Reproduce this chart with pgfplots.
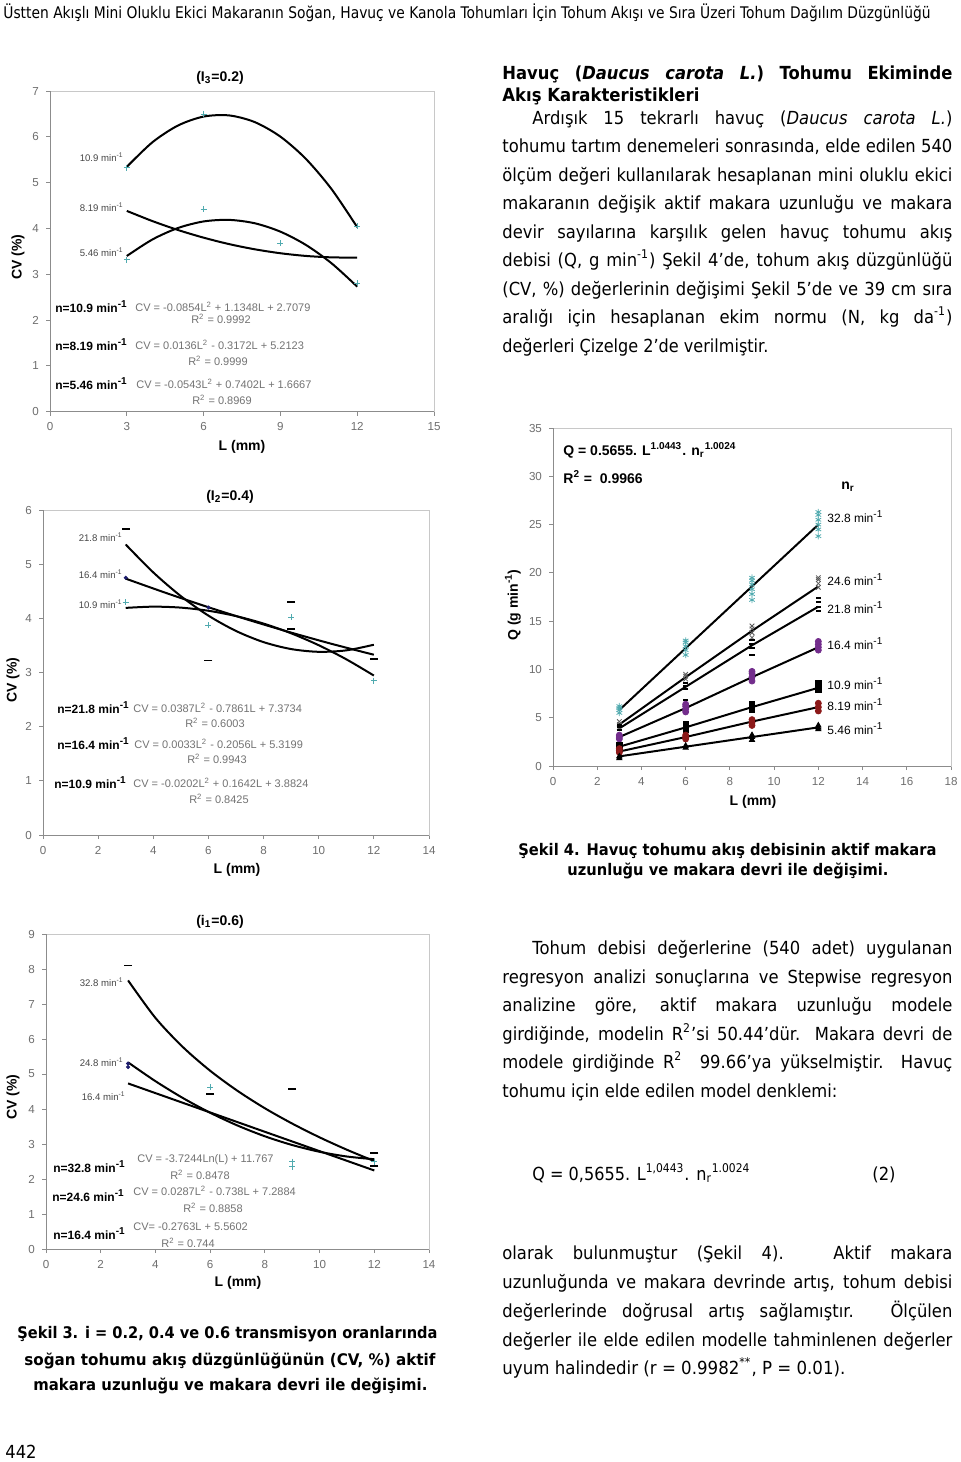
\documentclass[border=0pt]{standalone}
\usepackage{fontspec}
\usepackage{graphicx}
\usepackage{pgfplots}
\pgfplotsset{compat=1.18}
\setmainfont{Liberation Sans}
\newfontfamily\chartfont{Liberation Sans}
\newfontfamily\bodyfont[FakeStretch=0.91]{DejaVu Sans}

\definecolor{tickgray}{RGB}{110,110,110}
\definecolor{axgray}{RGB}{140,140,140}
\definecolor{boxgray}{RGB}{200,200,200}
\definecolor{eqgray}{RGB}{115,115,115}
\definecolor{lblgray}{RGB}{70,70,70}
\definecolor{mcyan}{RGB}{80,170,175}
\definecolor{mnavy}{RGB}{30,30,110}
\definecolor{mpurple}{RGB}{115,45,140}
\definecolor{mred}{RGB}{140,25,25}

\pgfplotsset{
 cvax/.style={scale only axis, anchor=south west, axis line style={boxgray},
  tick align=outside, xtick pos=left, ytick pos=left, major tick length=2pt,
  tick style={axgray, line width=0.4pt},
  tick label style={font=\chartfont\fontsize{5.8}{6}\selectfont, text=tickgray},
  /pgf/number format/assume math mode=true, enlargelimits=false,
  xlabel={}, ylabel={}},
 trend/.style={black, line width=1pt, smooth, no marks},
}

\newcommand{\jline}[4]{\node[anchor=base west, inner sep=0pt] at (#1,#2) {\bodyfont\fontsize{9}{11}\selectfont\makebox[#3][s]{#4}};}
\newcommand{\bjline}[4]{\node[anchor=base west, inner sep=0pt] at (#1,#2) {\bodyfont\bfseries\fontsize{9}{11}\selectfont\makebox[#3][s]{#4}};}
\newcommand{\rline}[5]{\node[anchor=base west, inner sep=0pt] at (#1,#2) {#4\resizebox{#3}{\height}{#5}};}
\newcommand{\BF}{\bodyfont\fontsize{9}{11}\selectfont}
\newcommand{\BBF}{\bodyfont\bfseries\fontsize{8}{10}\selectfont}
\newcommand{\nlab}{\chartfont\bfseries\fontsize{6}{7}\selectfont}
\newcommand{\eqf}{\chartfont\fontsize{5.5}{6}\selectfont\color{eqgray}}
\newcommand{\clab}{\chartfont\fontsize{4.8}{5}\selectfont\color{lblgray}}
\newcommand{\albf}{\chartfont\bfseries\fontsize{7}{8}\selectfont}
\newcommand{\mi}{min\textsuperscript{-1}}

\begin{document}
\begin{tikzpicture}[x=0.5pt,y=-0.5pt]
\path[use as bounding box] (0,0) rectangle (960,1462);
\fill[white] (0,0) rectangle (960,1462);

% ---------------- Chart 1 ----------------
\begin{axis}[cvax, at={(25pt,-205.85pt)}, width=192pt, height=160.35pt,
  xmin=0, xmax=15, ymin=0, ymax=7, xtick={0,3,6,9,12,15}, ytick={0,1,2,3,4,5,6,7}]
\addplot[trend] coordinates {(3,5.344) (4,5.881) (5,6.247) (6,6.442) (7,6.467) (8,6.321) (9,6.004) (10,5.516) (11,4.857) (12,4.028)};
\addplot[trend] coordinates {(3,4.383) (4,4.161) (5,3.966) (6,3.799) (7,3.658) (8,3.545) (9,3.459) (10,3.400) (11,3.369) (12,3.364)};
\addplot[trend] coordinates {(3,3.399) (4,3.759) (5,4.010) (6,4.153) (7,4.187) (8,4.113) (9,3.930) (10,3.639) (11,3.239) (12,2.730)};
\addplot[only marks, mark=+, mcyan, mark size=1.5pt] coordinates {(3,5.33) (6,6.5) (12,4.05) (6,4.42) (9,3.68) (3,3.32) (12,2.8)};
\draw[axgray, line width=0.5pt] (rel axis cs:0,1) -- (rel axis cs:0,0) -- (rel axis cs:1,0);
\end{axis}
\node[font=\albf] at (220,78) {(I\textsubscript{3}=0.2)};
\node[font=\albf, rotate=90] at (18,257) {CV (\%)};
\node[font=\albf] at (242,447) {L (mm)};
\node[anchor=west, inner sep=0pt] at (55,307) {\nlab n=10.9 \mi};
\node[anchor=west, inner sep=0pt] at (135,307) {\eqf CV = -0.0854L\textsuperscript{2} + 1.1348L + 2.7079};
\node[inner sep=0pt] at (221,319) {\eqf R\textsuperscript{2} = 0.9992};
\node[anchor=west, inner sep=0pt] at (55,345) {\nlab n=8.19 \mi};
\node[anchor=west, inner sep=0pt] at (135,345) {\eqf CV = 0.0136L\textsuperscript{2} - 0.3172L + 5.2123};
\node[inner sep=0pt] at (218,361) {\eqf R\textsuperscript{2} = 0.9999};
\node[anchor=west, inner sep=0pt] at (55,384) {\nlab n=5.46 \mi};
\node[anchor=west, inner sep=0pt] at (136,384) {\eqf CV = -0.0543L\textsuperscript{2} + 0.7402L + 1.6667};
\node[inner sep=0pt] at (222,400) {\eqf R\textsuperscript{2} = 0.8969};
\node[anchor=east, inner sep=0pt] at (124,157) {\clab 10.9 \mi};
\node[anchor=east, inner sep=0pt] at (124,207) {\clab 8.19 \mi};
\node[anchor=east, inner sep=0pt] at (124,252) {\clab 5.46 \mi};

% ---------------- Chart 2 ----------------
\begin{axis}[cvax, at={(21.5pt,-417.5pt)}, width=193pt, height=162.5pt,
  xmin=0, xmax=14, ymin=0, ymax=6, xtick={0,2,...,14}, ytick={0,1,2,3,4,5,6}]
\addplot[trend] coordinates {(3,5.363) (4,4.848) (5,4.410) (6,4.050) (7,3.767) (8,3.561) (9,3.433) (10,3.382) (11,3.409) (12,3.513)};
\addplot[trend] coordinates {(3,4.733) (4.5,4.462) (6,4.205) (7.5,3.964) (9,3.737) (10.5,3.525) (12,3.328)};
\addplot[trend] coordinates {(3,4.193) (4,4.216) (5,4.198) (6,4.140) (7,4.042) (8,3.903) (9,3.724) (10,3.504) (11,3.244) (12,2.944)};
\addplot[only marks, mark=-, black, mark size=2pt, line width=0.9pt] coordinates {(3,5.65) (6,3.22) (9,4.3) (12,3.25) (9,3.8)};
\addplot[only marks, mark=+, mcyan, mark size=1.5pt] coordinates {(3,4.3) (6,3.87) (9,4.02) (12,2.85)};
\addplot[only marks, mark=*, mnavy, mark size=0.8pt] coordinates {(3,4.75) (6,4.2)};
\draw[axgray, line width=0.5pt] (rel axis cs:0,1) -- (rel axis cs:0,0) -- (rel axis cs:1,0);
\end{axis}
\node[font=\albf] at (230,497) {(I\textsubscript{2}=0.4)};
\node[font=\albf, rotate=90] at (13,680) {CV (\%)};
\node[font=\albf] at (237,870) {L (mm)};
\node[anchor=west, inner sep=0pt] at (57,708) {\nlab n=21.8 \mi};
\node[anchor=west, inner sep=0pt] at (133,708) {\eqf CV = 0.0387L\textsuperscript{2} - 0.7861L + 7.3734};
\node[inner sep=0pt] at (215,723) {\eqf R\textsuperscript{2} = 0.6003};
\node[anchor=west, inner sep=0pt] at (57,744) {\nlab n=16.4 \mi};
\node[anchor=west, inner sep=0pt] at (134,744) {\eqf CV = 0.0033L\textsuperscript{2} - 0.2056L + 5.3199};
\node[inner sep=0pt] at (217,759) {\eqf R\textsuperscript{2} = 0.9943};
\node[anchor=west, inner sep=0pt] at (54,783) {\nlab n=10.9 \mi};
\node[anchor=west, inner sep=0pt] at (133,783) {\eqf CV = -0.0202L\textsuperscript{2} + 0.1642L + 3.8824};
\node[inner sep=0pt] at (219,799) {\eqf R\textsuperscript{2} = 0.8425};
\node[anchor=east, inner sep=0pt] at (123,537) {\clab 21.8 \mi};
\node[anchor=east, inner sep=0pt] at (123,574) {\clab 16.4 \mi};
\node[anchor=east, inner sep=0pt] at (123,604) {\clab 10.9 \mi};

% ---------------- Chart 3 ----------------
\begin{axis}[cvax, at={(23pt,-624.5pt)}, width=191.5pt, height=157.5pt,
  xmin=0, xmax=14, ymin=0, ymax=9, xtick={0,2,...,14}, ytick={0,1,...,9}]
\addplot[trend] coordinates {(3,7.675) (4,6.604) (5,5.773) (6,5.094) (7,4.520) (8,4.022) (9,3.584) (10,3.191) (11,2.836) (12,2.512)};
\addplot[trend] coordinates {(3,5.333) (4,4.796) (5,4.316) (6,3.894) (7,3.529) (8,3.221) (9,2.971) (10,2.778) (11,2.643) (12,2.565)};
\addplot[black, line width=1pt, no marks] coordinates {(3,4.731) (12,2.244)};
\addplot[only marks, mark=-, black, mark size=2pt, line width=0.9pt] coordinates {(3,8.1) (9,4.58) (12,2.75) (6,4.42) (12,2.38)};
\addplot[only marks, mark=+, mcyan, mark size=1.5pt] coordinates {(6,4.62) (9,2.35) (12,2.5) (9,2.5)};
\addplot[only marks, mark=*, mnavy, mark size=0.8pt] coordinates {(3,5.2) (3,5.3)};
\draw[axgray, line width=0.5pt] (rel axis cs:0,1) -- (rel axis cs:0,0) -- (rel axis cs:1,0);
\end{axis}
\node[font=\albf] at (220,922) {(i\textsubscript{1}=0.6)};
\node[font=\albf, rotate=90] at (13,1097) {CV (\%)};
\node[font=\albf] at (238,1283) {L (mm)};
\node[anchor=west, inner sep=0pt] at (53,1167) {\nlab n=32.8 \mi};
\node[anchor=west, inner sep=0pt] at (137,1160) {\eqf CV = -3.7244Ln(L) + 11.767};
\node[inner sep=0pt] at (200,1175) {\eqf R\textsuperscript{2} = 0.8478};
\node[anchor=west, inner sep=0pt] at (52,1196) {\nlab n=24.6 \mi};
\node[anchor=west, inner sep=0pt] at (133,1191) {\eqf CV = 0.0287L\textsuperscript{2} - 0.738L + 7.2884};
\node[inner sep=0pt] at (213,1208) {\eqf R\textsuperscript{2} = 0.8858};
\node[anchor=west, inner sep=0pt] at (53,1234) {\nlab n=16.4 \mi};
\node[anchor=west, inner sep=0pt] at (133,1227) {\eqf CV= -0.2763L + 5.5602};
\node[inner sep=0pt] at (188,1243) {\eqf R\textsuperscript{2} = 0.744};
\node[anchor=east, inner sep=0pt] at (124,982) {\clab 32.8 \mi};
\node[anchor=east, inner sep=0pt] at (124,1062) {\clab 24.8 \mi};
\node[anchor=east, inner sep=0pt] at (126,1096) {\clab 16.4 \mi};

% ---------------- Chart 4 ----------------
\begin{axis}[cvax, at={(276.5pt,-383pt)}, width=199pt, height=169pt,
  xmin=0, xmax=18, ymin=0, ymax=35, xtick={0,2,...,18}, ytick={0,5,...,35}]
\addplot[only marks, mark=asterisk, mcyan, mark size=1.6pt] coordinates {
 (3,5.5) (3,5.8) (3,6.0) (3,6.2)
 (6,11.5) (6,12.0) (6,12.4) (6,12.8) (6,13.0)
 (9,17.2) (9,17.8) (9,18.3) (9,18.8) (9,19.2) (9,19.5)
 (12,23.8) (12,24.5) (12,25.0) (12,25.5) (12,26.0) (12,26.3)};
\addplot[only marks, mark=x, gray!70!black, mark size=1.6pt] coordinates {
 (3,4.0) (3,4.3) (3,4.6) (6,9.0) (6,9.3) (6,9.5)
 (9,13.3) (9,13.8) (9,14.2) (9,14.5) (12,18.5) (12,18.9) (12,19.3) (12,19.5)};
\addplot[only marks, mark=-, black, mark size=1.3pt, line width=1pt] coordinates {
 (3,3.7) (3,4.0) (3,4.2) (6,6.8) (6,8.0) (6,8.3) (6,8.6)
 (9,11.5) (9,12.2) (9,12.6) (9,13.0) (12,16.0) (12,16.5) (12,17.0) (12,17.4)};
\addplot[only marks, mark=*, mpurple, mark size=1.5pt] coordinates {
 (3,2.8) (3,3.0) (3,3.2) (6,5.6) (6,5.9) (6,6.2) (6,6.4)
 (9,8.8) (9,9.2) (9,9.6) (9,9.8) (12,12.0) (12,12.3) (12,12.6) (12,12.9)};
\addplot[only marks, mark=square*, black, mark size=1.3pt] coordinates {
 (3,1.8) (3,2.0) (3,2.2) (6,3.8) (6,4.0) (6,4.3) (9,5.8) (9,6.1) (9,6.4) (12,7.9) (12,8.3) (12,8.6)};
\addplot[only marks, mark=*, mred, mark size=1.5pt] coordinates {
 (3,1.4) (3,1.6) (3,1.8) (6,2.8) (6,3.0) (6,3.2) (9,4.2) (9,4.5) (9,4.8) (12,5.7) (12,6.1) (12,6.5)};
\addplot[only marks, mark=triangle*, black, mark size=1.5pt] coordinates {
 (3,0.8) (3,1.0) (6,1.9) (6,2.1) (9,2.7) (9,3.0) (9,3.2) (12,3.8) (12,4.0) (12,4.2)};
\addplot[black, line width=1pt, no marks] coordinates {(3,5.8) (6,12.2) (9,18.6) (12,25.0)};
\addplot[black, line width=1pt, no marks] coordinates {(3,4.3) (6,9.2) (9,14.0) (12,18.6)};
\addplot[black, line width=1pt, no marks] coordinates {(3,3.9) (6,8.2) (9,12.5) (12,16.5)};
\addplot[black, line width=1pt, no marks] coordinates {(3,3.0) (6,6.0) (9,9.2) (12,12.3)};
\addplot[black, line width=1pt, no marks] coordinates {(3,2.0) (6,4.0) (9,6.1) (12,8.1)};
\addplot[black, line width=1pt, no marks] coordinates {(3,1.5) (6,3.0) (9,4.6) (12,6.1)};
\addplot[black, line width=1pt, no marks] coordinates {(3,1.0) (6,2.0) (9,3.0) (12,4.0)};
\draw[axgray, line width=0.5pt] (rel axis cs:0,1) -- (rel axis cs:0,0) -- (rel axis cs:1,0);
\end{axis}
\node[font=\albf, rotate=90] at (513,605) {Q (g \mi)};
\node[font=\albf] at (753,802) {L (mm)};
\node[anchor=west, inner sep=0pt, font=\albf] at (563,450) {Q = 0.5655. L\textsuperscript{1.0443}. n\textsubscript{r}\textsuperscript{1.0024}};
\node[anchor=west, inner sep=0pt, font=\albf] at (563,477) {R\textsuperscript{2} =\ \ 0.9966};
\node[inner sep=0pt, font=\albf] at (848,487) {n\textsubscript{r}};
\foreach \yy/\tt in {517/32.8, 580/24.6, 608/21.8, 644/16.4, 684/10.9, 705/8.19, 729/5.46}{
  \node[anchor=west, inner sep=0pt] at (827,\yy) {\chartfont\fontsize{6}{7}\selectfont \tt\ \mi};
}

% ---------------- Text ----------------
\rline{3}{18}{463.5pt}{\bodyfont\fontsize{8}{10}\selectfont}{Üstten Akışlı Mini Oluklu Ekici Makaranın Soğan, Havuç ve Kanola Tohumları İçin Tohum Akışı ve Sıra Üzeri Tohum Dağılım Düzgünlüğü}

\bjline{502}{79}{225pt}{Havuç (\textit{Daucus carota L.}) Tohumu Ekiminde}
\rline{502}{101}{98.5pt}{\bodyfont\bfseries\fontsize{9}{11}\selectfont}{Akış Karakteristikleri}
\jline{532}{124}{210pt}{Ardışık 15 tekrarlı havuç (\textit{Daucus carota L.})}
\jline{502}{152.5}{225pt}{tohumu tartım denemeleri sonrasında, elde edilen 540}
\jline{502}{181}{225pt}{ölçüm değeri kullanılarak hesaplanan mini oluklu ekici}
\jline{502}{209.5}{225pt}{makaranın değişik aktif makara uzunluğu ve makara}
\jline{502}{238}{225pt}{devir sayılarına karşılık gelen havuç tohumu akış}
\jline{502}{266.5}{225pt}{debisi (Q, g min\textsuperscript{-1}) Şekil 4’de, tohum akış düzgünlüğü}
\jline{502}{295}{225pt}{(CV, \%) değerlerinin değişimi Şekil 5’de ve 39 cm sıra}
\jline{502}{323.5}{225pt}{aralığı için hesaplanan ekim normu (N, kg da\textsuperscript{-1})}
\rline{502}{352}{133pt}{\BF}{değerleri Çizelge 2’de verilmiştir.}

\rline{518}{855}{209pt}{\BBF}{Şekil 4. Havuç tohumu akış debisinin aktif makara}
\rline{567}{875}{160.5pt}{\BBF}{uzunluğu ve makara devri ile değişimi.}

\jline{532}{954}{210pt}{Tohum debisi değerlerine (540 adet) uygulanan}
\jline{502}{983}{225pt}{regresyon analizi sonuçlarına ve Stepwise regresyon}
\jline{502}{1011.5}{225pt}{analizine göre, aktif makara uzunluğu modele}
\jline{502}{1040}{225pt}{girdiğinde, modelin R\textsuperscript{2}’si 50.44’dür. Makara devri de}
\jline{502}{1068.5}{225pt}{modele girdiğinde R\textsuperscript{2}\ \ 99.66’ya yükselmiştir. Havuç}
\rline{502}{1097}{167.5pt}{\BF}{tohumu için elde edilen model denklemi:}

\rline{532}{1180}{109pt}{\BF}{Q = 0,5655. L\textsuperscript{1,0443}. n\textsubscript{r}\textsuperscript{1.0024}}
\node[anchor=base west, inner sep=0pt] at (872,1180) {\BF (2)};

\jline{502}{1259}{225pt}{olarak bulunmuştur (Şekil 4). Aktif makara}
\jline{502}{1288}{225pt}{uzunluğunda ve makara devrinde artış, tohum debisi}
\jline{502}{1317}{225pt}{değerlerinde doğrusal artış sağlamıştır. Ölçülen}
\jline{502}{1346}{225pt}{değerler ile elde edilen modelle tahminlenen değerler}
\rline{502}{1374}{171.5pt}{\BF}{uyum halindedir (r = 0.9982\textsuperscript{**}, P = 0.01).}

\rline{17}{1338}{210pt}{\BBF}{Şekil 3. i = 0.2, 0.4 ve 0.6 transmisyon oranlarında}
\rline{24}{1365}{205.5pt}{\BBF}{soğan tohumu akış düzgünlüğünün (CV, \%) aktif}
\rline{33}{1390}{197pt}{\BBF}{makara uzunluğu ve makara devri ile değişimi.}

\node[anchor=base west, inner sep=0pt] at (5,1458) {\BF 442};
\end{tikzpicture}
\end{document}
